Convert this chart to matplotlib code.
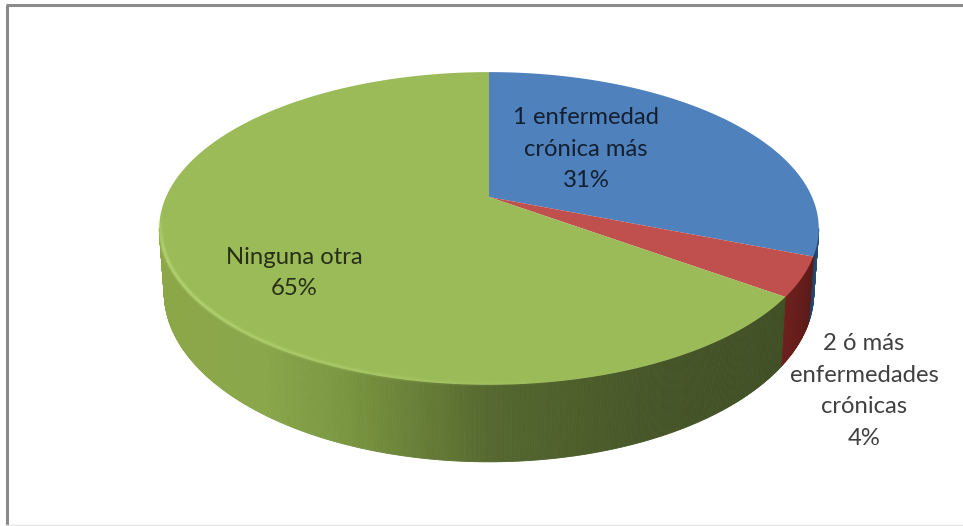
import numpy as np
import matplotlib
matplotlib.use("Agg")
import matplotlib.pyplot as plt
from matplotlib.colors import LinearSegmentedColormap
from matplotlib.collections import LineCollection

categories = ["1 enfermedad\ncrónica más", "2 ó más\nenfermedades\ncrónicas", "Ninguna otra"]
values = [31, 4, 65]
top_colors = ["#4f81bd", "#c0504d", "#9bbb59"]

W, H = 963, 526
fig = plt.figure(figsize=(W / 100, H / 100), dpi=100)
ax = fig.add_axes([0, 0, 1, 1])
ax.set_xlim(0, W)
ax.set_ylim(H, 0)
ax.axis("off")

# perspective projection of the pie disc
CX, CY, A, B, P, DEPTH = 489, 197, 323, 150, 0.201, 61.6

def project(theta, r=1.0, drop=0.0, shrink=1.0):
    u, v = r * np.sin(theta), r * np.cos(theta)
    w = 1 + P * v
    return CX + shrink * A * u / w, CY - B * v / w + drop / w

wall_maps = [
    LinearSegmentedColormap.from_list("b", [(0, "#2f5480"), (1, "#244163")]),
    LinearSegmentedColormap.from_list("r", [(0, "#5a1a18"), (1, "#6e211e")]),
    LinearSegmentedColormap.from_list(
        "g", [(0, "#3f4e24"), (0.25, "#465628"), (0.5, "#55682f"),
              (0.72, "#7a9640"), (0.85, "#8aa74a"), (1, "#8ba748")]),
]

fractions = np.array(values, dtype=float) / sum(values)
edges = np.concatenate([[0], np.cumsum(fractions)]) * 2 * np.pi
theta_right = np.arccos(-P)
theta_left = 2 * np.pi - theta_right

# side wall
for i in range(len(values)):
    a, b = max(edges[i], theta_right), min(edges[i + 1], theta_left)
    if b <= a:
        continue
    steps = np.linspace(a, b, max(3, int((b - a) * 160)))
    for t0, t1 in zip(steps[:-1], steps[1:]):
        t = np.array([t0, t1])
        x1, y1 = project(t)
        x2, y2 = project(t[::-1], drop=DEPTH, shrink=0.985)
        xm = (x1.mean() - (CX - 330)) / 660
        shade = wall_maps[i](1 - xm if i == 2 else (t0 - a) / max(b - a, 1e-6))
        ax.fill(np.r_[x1, x2], np.r_[y1, y2], color=shade, lw=0.6, zorder=2)

# top faces
for i in range(len(values)):
    t = np.linspace(edges[i], edges[i + 1], 200)
    x, y = project(t)
    ax.fill(np.r_[CX, x], np.r_[CY, y], color=top_colors[i], lw=0, zorder=3)

# soft bevel highlight along the front rim of the green slice
t = np.linspace(edges[2], theta_left + 0.12, 400)
x, y = project(t, r=0.996)
pts = np.column_stack([x, y]).reshape(-1, 1, 2)
segs = np.concatenate([pts[:-1], pts[1:]], axis=1)
strength = np.clip((t[:-1] - np.pi * 0.92) / 1.2, 0, 1) * np.clip((theta_left + 0.12 - t[:-1]) / 0.25, 0, 1)
for lw, alpha in [(4.0, 0.25), (2.0, 0.55)]:
    cols = np.zeros((len(segs), 4))
    cols[:, :3] = matplotlib.colors.to_rgb("#bcd97a")
    cols[:, 3] = strength * alpha
    ax.add_collection(LineCollection(segs, colors=cols, linewidths=lw, zorder=4))

# frame of the chart area
ax.plot([6.5, 6.5], [526, 5], color="#8a8a8a", lw=2.2, zorder=1, solid_capstyle="butt")
ax.plot([5.5, 963], [5, 5], color="#8a8a8a", lw=2.2, zorder=1, solid_capstyle="butt")
ax.plot([6, 963], [524.5, 524.5], color="#e4e4e4", lw=1, zorder=1)

# labels
label_pos = [(586, 149), (864, 391), (294, 273)]
for name, val, (lx, ly) in zip(categories, values, label_pos):
    ax.text(lx, ly, f"{name}\n{val}%", ha="center", va="center", ma="center",
            family=["Lato", "DejaVu Sans"], fontsize=17.2, color="black", alpha=0.75,
            linespacing=1.63, zorder=6)

fig.savefig("out.png", dpi=100, facecolor="white")
